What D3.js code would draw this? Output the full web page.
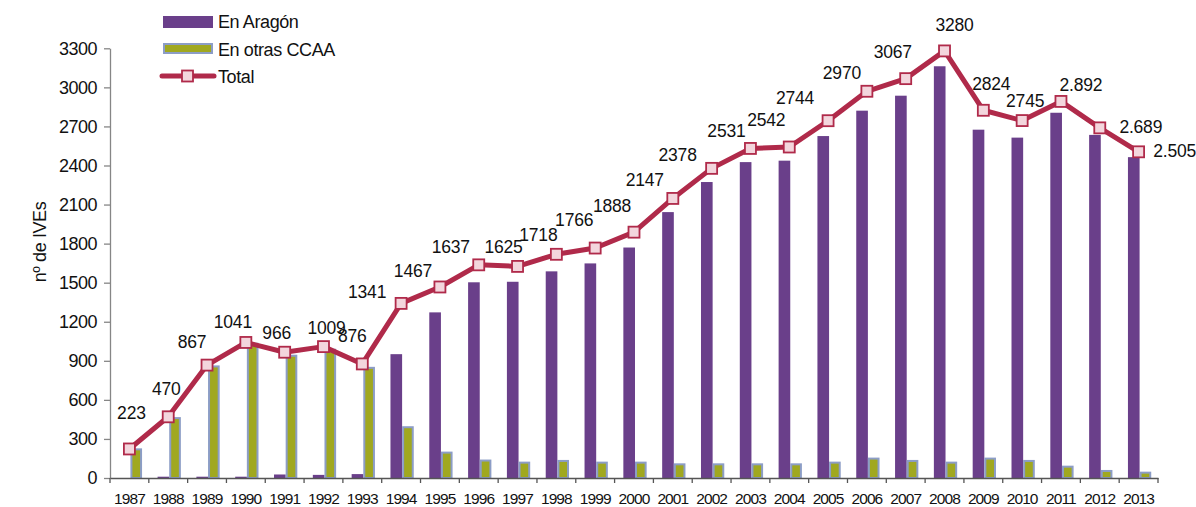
<!DOCTYPE html>
<html>
<head>
<meta charset="utf-8">
<script src="https://cdn.jsdelivr.net/npm/d3@7"></script>
<style>
  body { margin: 0; background: #fff; }
  text { font-family: "Liberation Sans", Arial, sans-serif; fill: #111; }
</style>
</head>
<body>
<div id="chart"></div>
<script>
// data
var years = ["1987","1988","1989","1990","1991","1992","1993","1994","1995","1996","1997","1998","1999",
             "2000","2001","2002","2003","2004","2005","2006","2007","2008","2009","2010","2011","2012","2013"];
var enAragon = [0, 10, 10, 10, 27, 24, 30, 951, 1272, 1503, 1507, 1587, 1648,
                1770, 2042, 2273, 2426, 2437, 2626, 2821, 2936, 3162, 2675, 2614, 2805, 2635, 2464];
var enOtras = [220, 460, 857, 1031, 939, 985, 846, 390, 195, 134, 118, 131, 118,
               118, 105, 105, 105, 105, 118, 149, 131, 118, 149, 131, 87, 54, 41];
var total = [223, 470, 867, 1041, 966, 1009, 876, 1341, 1467, 1637, 1625, 1718, 1766,
             1888, 2147, 2378, 2531, 2542, 2744, 2970, 3067, 3280, 2824, 2745, 2892, 2689, 2505];
var totalLabels = ["223","470","867","1041","966","1009","876","1341","1467","1637","1625","1718","1766",
                   "1888","2147","2378","2531","2542","2744","2970","3067","3280","2824","2745","2.892","2.689","2.505"];
var yTicks = [0, 300, 600, 900, 1200, 1500, 1800, 2100, 2400, 2700, 3000, 3300];

//label nudges (px from each point), placed by hand in the original
var labelNudge = [[2,-30],[-2,-22],[-15,-17],[-13,-14],[-8,-13],[3,-13],[-10,-22],[-34,-5],[-27,-10],[-28,-12],
                  [-14,-13],[-18,-13],[-21,-22],[-22,-20],[-28,-12],[-34,-7],[-24,-11],[-23,-21],[-33,-17],
                  [-25,-12],[-13,-21],[10,-20],[8,-20],[3,-14],[20,-10],[41,5],[36,5]];

var W = 1196, H = 507,
    plotLeft = 110, plotRight = 1158, plotTop = 48.3, plotBottom = 478;

var purple = "#6a3f8a", green = "#a0a820", greenEdge = "#8c9dc6",
    lineCol = "#b02a4a", markFill = "#f3d6dd";

var svg = d3.select("#chart").append("svg")
    .attr("width", W)
    .attr("height", H);

//Set up scales
var x = d3.scaleBand()
    .domain(years)
    .range([plotLeft, plotRight])
    .paddingInner(0.4)
    .paddingOuter(0.2);
var inner = d3.scaleBand()
    .domain(["aragon", "otras"])
    .range([0, x.bandwidth()]);
var y = d3.scaleLinear()
    .domain([0, 3300])
    .range([plotBottom, plotTop]);

//Y axis
var yAxis = svg.append("g")
    .attr("transform", "translate(" + plotLeft + ",0)")
    .call(d3.axisLeft(y).tickValues(yTicks).tickFormat(d3.format("d"))
      .tickSize(6).tickPadding(7).tickSizeOuter(0));
yAxis.select(".domain").attr("stroke", "#868686").attr("stroke-width", 1.3);
yAxis.selectAll(".tick line").attr("stroke", "#868686").attr("stroke-width", 1.3);
yAxis.selectAll(".tick text")
    .style("font-size", "18px")
    .style("letter-spacing", "-0.5px")
    .attr("fill", "#111");

svg.append("text")
    .attr("transform", "translate(46,242) rotate(-90)")
    .attr("text-anchor", "middle")
    .style("font-size", "18px")
    .style("letter-spacing", "-0.4px")
    .text("nº de IVEs");

//Bars
var groups = svg.append("g").selectAll("g")
    .data(years)
    .join("g")
    .attr("transform", function(d){ return "translate(" + x(d) + ",0)"; });

groups.append("rect")
    .attr("x", inner("aragon") + 1)
    .attr("width", inner.bandwidth())
    .attr("y", function(d, i){ return y(enAragon[i]); })
    .attr("height", function(d, i){ return plotBottom - y(enAragon[i]); })
    .attr("fill", purple);

groups.append("rect")
    .attr("x", inner("otras") + 2)
    .attr("width", inner.bandwidth() - 2)
    .attr("y", function(d, i){ return y(enOtras[i]); })
    .attr("height", function(d, i){ return plotBottom - y(enOtras[i]); })
    .attr("fill", green)
    .attr("stroke", greenEdge)
    .attr("stroke-width", 2);

//X axis
var xAxis = svg.append("g")
    .attr("transform", "translate(0," + plotBottom + ")")
    .call(d3.axisBottom(x).tickSize(0).tickPadding(15).tickSizeOuter(0));
xAxis.select(".domain").attr("stroke", "#555").attr("stroke-width", 1.3);
xAxis.selectAll(".tick text")
    .style("font-size", "15.5px")
    .style("letter-spacing", "-0.9px")
    .attr("fill", "#111");

//ticks sit between the categories
var gap = x.step() * x.paddingInner() / 2;
xAxis.selectAll(".sep")
    .data(years.concat(["end"]))
    .join("line")
    .attr("class", "sep")
    .attr("x1", function(d){ return d == "end" ? plotRight : x(d) - gap; })
    .attr("x2", function(d){ return d == "end" ? plotRight : x(d) - gap; })
    .attr("y1", 0)
    .attr("y2", 5)
    .attr("stroke", "#555")
    .attr("stroke-width", 1.3);

//Total line
var cx = function(d){ return x(d) + x.bandwidth() / 2; };
var line = d3.line()
    .x(function(d, i){ return cx(years[i]); })
    .y(function(d){ return y(d); });

svg.append("path")
    .datum(total)
    .attr("d", line)
    .attr("fill", "none")
    .attr("stroke", lineCol)
    .attr("stroke-width", 5)
    .attr("stroke-linejoin", "round");

svg.append("g").selectAll("rect")
    .data(total)
    .join("rect")
    .attr("x", function(d, i){ return cx(years[i]) - 5.5; })
    .attr("y", function(d){ return y(d) - 5.5; })
    .attr("width", 11)
    .attr("height", 11)
    .attr("fill", markFill)
    .attr("stroke", lineCol)
    .attr("stroke-width", 1.8);

svg.append("g").selectAll("text")
    .data(total)
    .join("text")
    .attr("x", function(d, i){ return cx(years[i]) + labelNudge[i][0]; })
    .attr("y", function(d, i){ return y(d) + labelNudge[i][1]; })
    .attr("text-anchor", "middle")
    .style("font-size", "17.5px")
    .style("letter-spacing", "-0.2px")
    .text(function(d, i){ return totalLabels[i]; });

//Legend
var legend = svg.append("g");
legend.append("rect")
    .attr("x", 163).attr("y", 16).attr("width", 50).attr("height", 12)
    .attr("fill", purple);
legend.append("rect")
    .attr("x", 164).attr("y", 44).attr("width", 48).attr("height", 9)
    .attr("fill", green).attr("stroke", greenEdge).attr("stroke-width", 2);
legend.append("line")
    .attr("x1", 162).attr("x2", 214).attr("y1", 76).attr("y2", 76)
    .attr("stroke", lineCol).attr("stroke-width", 5).attr("stroke-linecap", "round");
legend.append("rect")
    .attr("x", 182).attr("y", 70.5).attr("width", 11).attr("height", 11)
    .attr("fill", markFill).attr("stroke", lineCol).attr("stroke-width", 1.8);

var legendNames = ["En Aragón", "En otras CCAA", "Total"];
legend.selectAll("text")
    .data(legendNames)
    .join("text")
    .attr("x", 218)
    .attr("y", function(d, i){ return 28 + i * 27.5; })
    .style("font-size", "18px")
    .style("letter-spacing", "-0.4px")
    .text(function(d){ return d; });
</script>
</body>
</html>
